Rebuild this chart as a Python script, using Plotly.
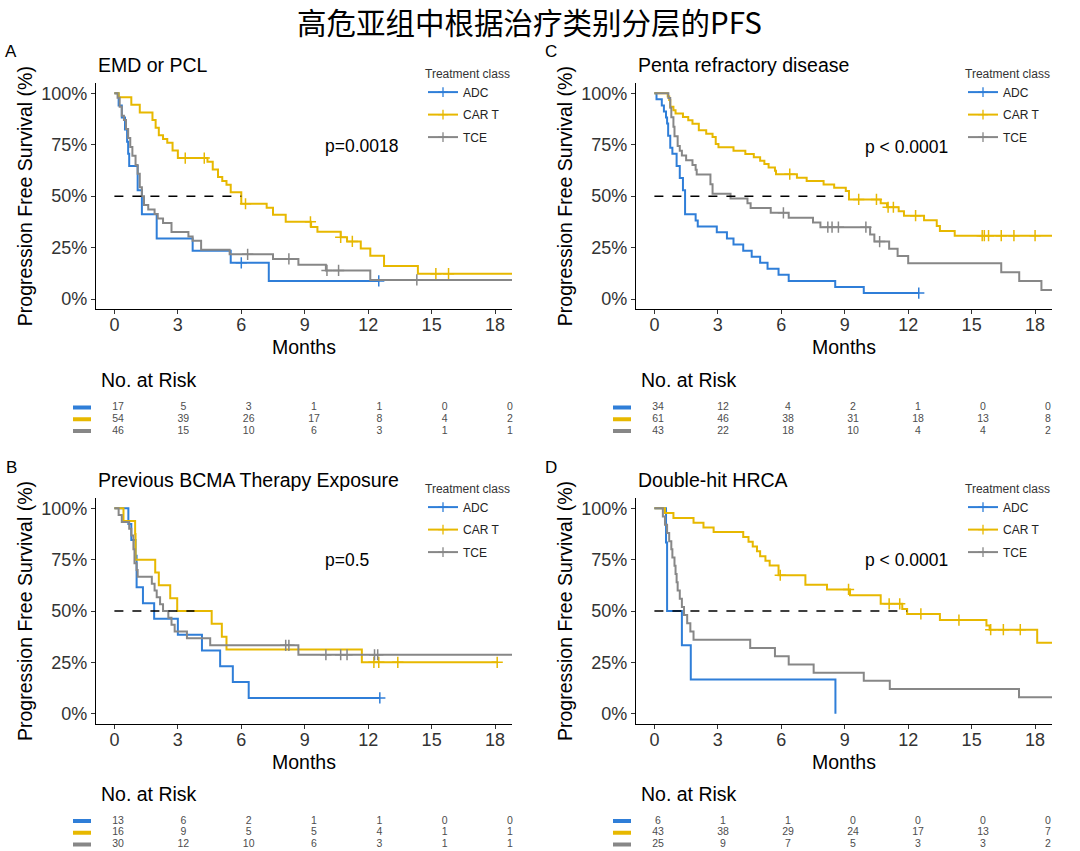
import plotly.graph_objects as go

W, H = 1080, 851
FONT = "Liberation Sans, Arial, sans-serif"
TXT = "#333333"

# ---------------- data ----------------
GROUPS = ["ADC", "CAR T", "TCE"]
COLORS = ["#2F7ED8", "#E7B800", "#878787"]

MAIN_TITLE = "高危亚组中根据治疗类别分层的PFS"
PANEL_TITLES = ["EMD or PCL", "Penta refractory disease",
                "Previous BCMA Therapy Exposure", "Double-hit HRCA"]
PANEL_LETTERS = ["A", "C", "B", "D"]
P_TEXT = ["p=0.0018", "p < 0.0001", "p=0.5", "p < 0.0001"]
X_TITLE = "Months"
Y_TITLE = "Progression Free Survival (%)"

X_TICKS = [0, 3, 6, 9, 12, 15, 18]
Y_TICKS = [0, 0.25, 0.5, 0.75, 1.0]
Y_TICKTEXT = ["0%", "25%", "50%", "75%", "100%"]
RISK_TIMES = [0, 3, 6, 9, 12, 15, 18]

# Panel A: EMD or PCL
A_ADC_t = [0.2, 0.35, 0.5, 0.6, 0.65, 0.7, 1.1, 1.3, 2.0, 3.7, 5.5, 7.3]
A_ADC_s = [0.941, 0.882, 0.824, 0.765, 0.706, 0.647, 0.529, 0.412, 0.294, 0.235, 0.176, 0.088]
A_ADC_cens = [6.0, 12.5]
A_ADC_end = 12.5
A_CART_t = [0.2, 0.8, 1.2, 1.8, 1.95, 2.1, 2.3, 2.5, 2.75, 3.0, 4.4, 4.65, 4.9, 5.1, 5.3, 5.5,
            6.0, 7.2, 7.5, 8.1, 9.3, 9.6, 10.7, 11.0, 11.65, 12.1, 12.75, 14.35]
A_CART_s = [0.981, 0.944, 0.907, 0.870, 0.833, 0.796, 0.778, 0.759, 0.722, 0.685, 0.667, 0.630,
            0.593, 0.574, 0.556, 0.519, 0.463, 0.444, 0.41, 0.375, 0.35, 0.327, 0.30, 0.28,
            0.245, 0.21, 0.16, 0.123]
A_CART_cens = [3.35, 4.25, 6.2, 9.27, 10.7, 11.25, 15.2, 15.8]
A_CART_end = 19.0
A_TCE_t = [0.15, 0.25, 0.35, 0.45, 0.55, 0.65, 0.75, 0.85, 1.0, 1.1, 1.2, 1.3, 1.4, 1.6, 1.9,
           2.05, 2.3, 2.7, 3.5, 3.7, 4.1, 5.45, 7.5, 8.7, 10.0, 12.1]
A_TCE_s = [0.978, 0.935, 0.891, 0.87, 0.826, 0.783, 0.739, 0.696, 0.652, 0.609, 0.543, 0.50,
           0.457, 0.435, 0.413, 0.391, 0.370, 0.326, 0.304, 0.283, 0.239, 0.217, 0.195, 0.167,
           0.139, 0.093]
A_TCE_cens = [6.3, 8.25, 10.05, 10.6, 14.3]
A_TCE_end = 19.0

# Panel C: Penta refractory disease
C_ADC_t = [0.1, 0.35, 0.45, 0.55, 0.6, 0.65, 0.75, 0.85, 1.05, 1.2, 1.35, 1.45, 1.95, 2.05,
           2.95, 3.43, 3.74, 4.2, 4.6, 5.0, 5.35, 5.87, 6.35, 8.55, 9.9]
C_ADC_s = [0.971, 0.941, 0.912, 0.882, 0.853, 0.794, 0.735, 0.706, 0.647, 0.588, 0.529, 0.412,
           0.382, 0.353, 0.324, 0.294, 0.265, 0.235, 0.206, 0.176, 0.147, 0.118, 0.088, 0.059,
           0.029]
C_ADC_cens = [12.5]
C_ADC_end = 12.5
C_CART_t = [0.63, 0.7, 0.75, 0.9, 1.0, 1.35, 1.6, 1.8, 2.1, 2.45, 2.75, 2.9, 3.03, 3.74, 4.3,
            4.7, 5.0, 5.2, 5.4, 5.7, 5.75, 6.74, 7.2, 8.0, 8.5, 9.05, 9.2, 10.7, 11.0, 11.55,
            11.8, 12.75, 13.35, 13.5, 14.2]
C_CART_s = [0.984, 0.967, 0.934, 0.918, 0.902, 0.885, 0.869, 0.852, 0.82, 0.803, 0.787, 0.754,
            0.738, 0.721, 0.705, 0.689, 0.672, 0.656, 0.639, 0.623, 0.607, 0.59, 0.574, 0.557,
            0.541, 0.525, 0.484, 0.465, 0.446, 0.426, 0.405, 0.383, 0.355, 0.33, 0.308]
C_CART_cens = [6.4, 9.66, 10.5, 11.05, 11.3, 12.35, 15.5, 15.6, 15.8, 16.4, 17.0, 18.0]
C_CART_end = 19.0
C_TCE_t = [0.66, 0.75, 0.8, 0.9, 0.95, 1.1, 1.2, 1.3, 1.5, 1.8, 1.95, 2.0, 2.65, 2.75, 3.6,
           4.4, 4.55, 5.5, 6.35, 7.5, 7.85, 10.2, 10.4, 11.1, 11.5, 12.0, 16.4, 17.25, 18.3]
C_TCE_s = [0.977, 0.93, 0.884, 0.837, 0.791, 0.744, 0.721, 0.698, 0.674, 0.651, 0.628, 0.605,
           0.558, 0.512, 0.488, 0.465, 0.442, 0.419, 0.395, 0.372, 0.349, 0.314, 0.279, 0.244,
           0.209, 0.174, 0.13, 0.087, 0.044]
C_TCE_cens = [6.1, 8.2, 8.4, 8.7, 10.0, 10.65]
C_TCE_end = 19.0

# Panel B: Previous BCMA Therapy Exposure
B_ADC_t = [0.66, 0.8, 1.0, 1.05, 1.35, 1.88, 3.0, 4.14, 5.0, 5.6, 6.35]
B_ADC_s = [0.923, 0.846, 0.769, 0.615, 0.538, 0.462, 0.385, 0.308, 0.231, 0.154, 0.077]
B_ADC_cens = [12.55]
B_ADC_end = 12.55
B_CART_t = [0.43, 0.98, 1.0, 1.93, 2.1, 2.64, 2.97, 4.6, 5.08, 5.3, 11.7]
B_CART_s = [0.9375, 0.875, 0.75, 0.6875, 0.625, 0.5625, 0.5, 0.4375, 0.375, 0.3125, 0.25]
B_CART_cens = [12.27, 12.5, 13.4, 18.1]
B_CART_end = 18.1
B_TCE_t = [0.2, 0.35, 0.7, 0.8, 0.9, 0.95, 1.05, 1.1, 1.77, 1.9, 2.0, 2.16, 2.3, 2.55, 2.7,
           2.85, 3.43, 4.53, 8.7]
B_TCE_s = [0.967, 0.933, 0.9, 0.867, 0.8, 0.733, 0.70, 0.667, 0.633, 0.60, 0.567, 0.533, 0.50,
           0.467, 0.433, 0.40, 0.367, 0.333, 0.287]
B_TCE_cens = [8.1, 8.25, 10.0, 10.7, 11.0, 12.3, 12.45]
B_TCE_end = 19.0

# Panel D: Double-hit HRCA
D_ADC_t = [0.55, 0.6, 1.3, 1.72, 8.56]
D_ADC_s = [0.833, 0.5, 0.333, 0.167, 0.0]
D_ADC_cens = []
D_ADC_end = 8.56
D_CART_t = [0.5, 0.9, 1.85, 2.32, 2.8, 4.2, 4.45, 4.65, 4.85, 5.0, 5.25, 5.45, 5.87, 7.14,
            8.16, 9.25, 10.7, 11.72, 11.95, 13.5, 15.7, 15.85, 18.1]
D_CART_s = [0.977, 0.953, 0.93, 0.907, 0.884, 0.86, 0.837, 0.814, 0.791, 0.767, 0.744, 0.721,
            0.674, 0.628, 0.605, 0.577, 0.535, 0.51, 0.486, 0.456, 0.43, 0.409, 0.346]
D_CART_cens = [5.95, 9.18, 11.1, 11.6, 12.6, 14.4, 15.9, 16.5, 17.3]
D_CART_end = 19.0
D_TCE_t = [0.4, 0.5, 0.6, 0.7, 0.8, 0.85, 0.95, 1.0, 1.05, 1.1, 1.2, 1.3, 1.4, 1.55, 1.7,
           1.85, 4.53, 5.7, 6.35, 7.53, 9.9, 11.13, 17.24]
D_TCE_s = [0.96, 0.92, 0.88, 0.84, 0.80, 0.76, 0.72, 0.68, 0.64, 0.60, 0.56, 0.52, 0.48, 0.44,
           0.40, 0.36, 0.32, 0.28, 0.24, 0.20, 0.16, 0.12, 0.08]
D_TCE_cens = []
D_TCE_end = 19.0

# numbers at risk
A_RISK_ADC = [17, 5, 3, 1, 1, 0, 0]
A_RISK_CART = [54, 39, 26, 17, 8, 4, 2]
A_RISK_TCE = [46, 15, 10, 6, 3, 1, 1]
C_RISK_ADC = [34, 12, 4, 2, 1, 0, 0]
C_RISK_CART = [61, 46, 38, 31, 18, 13, 8]
C_RISK_TCE = [43, 22, 18, 10, 4, 4, 2]
B_RISK_ADC = [13, 6, 2, 1, 1, 0, 0]
B_RISK_CART = [16, 9, 5, 5, 4, 1, 1]
B_RISK_TCE = [30, 12, 10, 6, 3, 1, 1]
D_RISK_ADC = [6, 1, 1, 0, 0, 0, 0]
D_RISK_CART = [43, 38, 29, 24, 17, 13, 7]
D_RISK_TCE = [25, 9, 7, 5, 3, 3, 2]

PANELS = [
    dict(curves=[(A_ADC_t, A_ADC_s, A_ADC_cens, A_ADC_end),
                 (A_CART_t, A_CART_s, A_CART_cens, A_CART_end),
                 (A_TCE_t, A_TCE_s, A_TCE_cens, A_TCE_end)],
         risk=[A_RISK_ADC, A_RISK_CART, A_RISK_TCE]),
    dict(curves=[(C_ADC_t, C_ADC_s, C_ADC_cens, C_ADC_end),
                 (C_CART_t, C_CART_s, C_CART_cens, C_CART_end),
                 (C_TCE_t, C_TCE_s, C_TCE_cens, C_TCE_end)],
         risk=[C_RISK_ADC, C_RISK_CART, C_RISK_TCE]),
    dict(curves=[(B_ADC_t, B_ADC_s, B_ADC_cens, B_ADC_end),
                 (B_CART_t, B_CART_s, B_CART_cens, B_CART_end),
                 (B_TCE_t, B_TCE_s, B_TCE_cens, B_TCE_end)],
         risk=[B_RISK_ADC, B_RISK_CART, B_RISK_TCE]),
    dict(curves=[(D_ADC_t, D_ADC_s, D_ADC_cens, D_ADC_end),
                 (D_CART_t, D_CART_s, D_CART_cens, D_CART_end),
                 (D_TCE_t, D_TCE_s, D_TCE_cens, D_TCE_end)],
         risk=[D_RISK_ADC, D_RISK_CART, D_RISK_TCE]),
]


# ---------------- helpers ----------------
def surv_at(t, s, c):
    v = 1.0
    for ti, si in zip(t, s):
        if ti <= c:
            v = si
    return v


def median_time(t, s):
    for i, v in enumerate(s):
        if v <= 0.5 + 1e-9:
            if abs(v - 0.5) < 1e-6 and i + 1 < len(t):
                return (t[i] + t[i + 1]) / 2
            return t[i]
    return None


def xd(a, b):
    return [a / W, b / W]


def yd(top, bottom):
    return [1 - bottom / H, 1 - top / H]


# ---------------- layout geometry (pixels) ----------------
PLOT_BOX = [(96, 512, 83, 309.3), (636, 1052, 83, 309.3),
            (96, 512, 498, 724), (636, 1052, 498, 724)]
RISK_BOX = [(118, 510, 407.5), (658, 1048, 407.5),
            (118, 510, 821), (658, 1048, 821)]
ROW_GAP = 11.7
P_POS = [(11.7, 0.745), (11.9, 0.74), (11.0, 0.75), (11.9, 0.75)]

fig = go.Figure()
layout = dict(width=W, height=H, margin=dict(l=0, r=0, t=0, b=0),
              paper_bgcolor="white", plot_bgcolor="white",
              font=dict(family=FONT, color=TXT), showlegend=True)
annotations = []
shapes = []

for p, panel in enumerate(PANELS):
    n = p + 1
    xa = "x" if n == 1 else f"x{n}"
    ya = "y" if n == 1 else f"y{n}"
    rn = p + 5
    rxa, rya = f"x{rn}", f"y{rn}"
    lg = "legend" if n == 1 else f"legend{n}"
    L, R, T, B = PLOT_BOX[p]

    axis_common = dict(showline=True, linecolor="black", linewidth=1.2, ticks="outside",
                       ticklen=4, tickwidth=1.1, tickcolor="#333333",
                       tickfont=dict(size=18, color="#333333", family=FONT),
                       showgrid=False, zeroline=False)
    layout["xaxis" if n == 1 else f"xaxis{n}"] = dict(
        domain=xd(L, R), range=[-0.87, 18.8], tickvals=X_TICKS, anchor=ya,
        ticklabelstandoff=-5, **axis_common)
    layout["yaxis" if n == 1 else f"yaxis{n}"] = dict(
        domain=yd(T, B), range=[-0.05, 1.05], tickvals=Y_TICKS, ticktext=Y_TICKTEXT,
        anchor=xa,
        title=dict(text=Y_TITLE, font=dict(size=19.5, color="black", family=FONT), standoff=3),
        **axis_common)
    # x axis title
    annotations.append(dict(x=(L + R) / 2 / W, y=1 - (B + 38) / H, xref="paper", yref="paper",
                            xanchor="center", yanchor="middle",
                            text=X_TITLE, showarrow=False,
                            font=dict(size=19.5, color="black", family=FONT)))

    medians = []
    for g, (t, s, cens, end) in enumerate(panel["curves"]):
        col = COLORS[g]
        fig.add_trace(go.Scatter(
            x=[0] + list(t) + [end], y=[1.0] + list(s) + [s[-1]],
            mode="lines", line=dict(color=col, width=2, shape="hv"),
            xaxis=xa, yaxis=ya, showlegend=False, hoverinfo="skip"))
        if cens:
            fig.add_trace(go.Scatter(
                x=cens, y=[surv_at(t, s, c) for c in cens], mode="markers",
                marker=dict(symbol="cross-thin", size=8, color=col,
                            line=dict(color=col, width=1.5)),
                xaxis=xa, yaxis=ya, showlegend=False, hoverinfo="skip"))
        m = median_time(t, s)
        if m is not None:
            medians.append(m)
        # legend entry
        fig.add_trace(go.Scatter(
            x=[None], y=[None], mode="lines+markers", name=GROUPS[g],
            line=dict(color=col, width=2),
            marker=dict(symbol="cross-thin", size=7, color=col, line=dict(color=col, width=1.3)),
            xaxis=xa, yaxis=ya, legend=lg, legendgroup=f"{p}-{g}", showlegend=True))

    # median line
    fig.add_trace(go.Scatter(
        x=[0, max(medians)], y=[0.5, 0.5], mode="lines",
        line=dict(color="black", width=1.5, dash="dash"),
        xaxis=xa, yaxis=ya, showlegend=False, hoverinfo="skip"))

    # legend box
    layout[lg] = dict(
        x=(L + 327) / W, y=1 - (T - 21) / H, xanchor="left", yanchor="top",
        bgcolor="rgba(0,0,0,0)", itemwidth=30, tracegroupgap=3.5,
        title=dict(text="Treatment class", font=dict(size=12, color="#333333", family=FONT)),
        font=dict(size=12, color="#222222", family=FONT))

    # p value
    annotations.append(dict(x=P_POS[p][0], y=P_POS[p][1], xref=xa, yref=ya, text=P_TEXT[p],
                            showarrow=False, font=dict(size=17.5, color="black", family=FONT)))
    # panel title
    annotations.append(dict(x=L / W, y=1 - (T - 18) / H, xref="paper", yref="paper",
                            xanchor="left", yanchor="middle", text=PANEL_TITLES[p],
                            showarrow=False, font=dict(size=19.5, color="black", family=FONT)))
    # panel letter
    annotations.append(dict(x=(L - 85) / W, y=1 - (T - 31) / H, xref="paper", yref="paper",
                            xanchor="center", yanchor="middle", text=PANEL_LETTERS[p],
                            showarrow=False, font=dict(size=17, color="black", family=FONT)))

    # risk table
    x0px, x18px, row0 = RISK_BOX[p]
    k = (x18px - x0px) / 18.0
    dl, dr = L + 4, L + 434
    layout[f"xaxis{rn}"] = dict(domain=xd(dl, dr), range=[(dl - x0px) / k, (dr - x0px) / k],
                                visible=False, anchor=rya, fixedrange=True)
    layout[f"yaxis{rn}"] = dict(domain=yd(row0 - ROW_GAP / 2, row0 + ROW_GAP * 2.5),
                                range=[2.5, -0.5], visible=False, anchor=rxa, fixedrange=True)
    for g, counts in enumerate(panel["risk"]):
        fig.add_trace(go.Scatter(
            x=RISK_TIMES, y=[g] * len(RISK_TIMES), mode="text",
            text=[str(c) for c in counts],
            textfont=dict(size=10.5, color="#4D4D4D", family=FONT),
            xaxis=rxa, yaxis=rya, showlegend=False, hoverinfo="skip"))
        shapes.append(dict(type="line", xref="paper", yref=rya,
                           x0=(L - 23) / W, x1=(L - 5) / W, y0=g, y1=g,
                           line=dict(color=COLORS[g], width=4)))
    annotations.append(dict(x=(L + 3) / W, y=1 - (row0 - 27.5) / H, xref="paper", yref="paper",
                            xanchor="left", yanchor="middle", text="No. at Risk",
                            showarrow=False, font=dict(size=19.5, color="black", family=FONT)))

annotations.append(dict(x=529 / W, y=1 - 20.5 / H, xref="paper", yref="paper",
                        xanchor="center", yanchor="middle",
                        text=MAIN_TITLE, showarrow=False,
                        font=dict(size=29.5, color="black", family="Noto Sans CJK SC")))

layout["annotations"] = annotations
layout["shapes"] = shapes
fig.update_layout(**layout)
fig.write_html("out.html")
